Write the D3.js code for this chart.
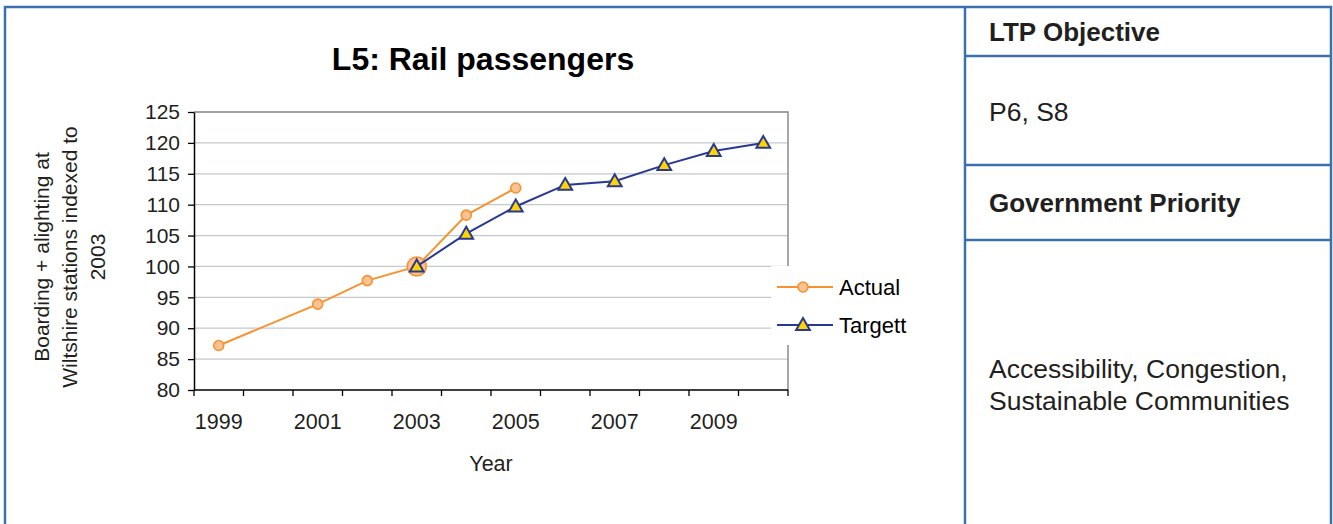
<!DOCTYPE html>
<html>
<head>
<meta charset="utf-8">
<script src="https://cdn.jsdelivr.net/npm/d3@7"></script>
<style>
  html, body { margin: 0; padding: 0; background: #fff; }
  svg { display: block; font-family: "Liberation Sans", Arial, Helvetica, sans-serif; }
</style>
</head>
<body>
<svg id="chart" width="1333" height="524"></svg>
<script>
// Rail passenger index (2003 = 100)
const years = ["1999", "2000", "2001", "2002", "2003", "2004", "2005", "2006", "2007", "2008", "2009", "2010"];
const actualYears = ["1999", "2001", "2002", "2003", "2004", "2005"];
const actualValues = [87.2, 93.9, 97.7, 100, 108.3, 112.7];
const targetYears = ["2003", "2004", "2005", "2006", "2007", "2008", "2009", "2010"];
const targetValues = [100, 105.3, 109.7, 113.2, 113.8, 116.4, 118.7, 120];
const yTicks = [80, 85, 90, 95, 100, 105, 110, 115, 120, 125];
const xLabelYears = ["1999", "2001", "2003", "2005", "2007", "2009"];
const highlightYear = "2003";

const panelHeadings = ["LTP Objective", "Government Priority"];
const panelObjective = ["P6, S8"];
const panelPriority = ["Accessibility, Congestion,", "Sustainable Communities"];

const svg = d3.select("#chart");
const frameColor = "#3A70AE";
const textColor = "#231F20";
const orange = "#F7922F";
const peach = "#FBC293";
const navy = "#2A3990";
const yellow = "#FFD400";

const plot = { left: 194, right: 788, top: 112, bottom: 390 };

const x = d3.scaleBand().domain(years).range([plot.left, plot.right]).padding(0);
const y = d3.scaleLinear().domain([80, 125]).range([plot.bottom, plot.top]);
const cx = d => x(d) + x.bandwidth() / 2;

// Outer frame and side panel
const frame = svg.append("g");
frame.append("rect")
  .attr("x", 5).attr("y", 7).attr("width", 1326).attr("height", 540)
  .attr("fill", "none").attr("stroke", frameColor).attr("stroke-width", 2.5);
frame.append("line")
  .attr("x1", 965).attr("x2", 965).attr("y1", 7).attr("y2", 530)
  .attr("stroke", frameColor).attr("stroke-width", 2.5);
[56, 165, 240].forEach(yy => {
  frame.append("line")
    .attr("x1", 965).attr("x2", 1331).attr("y1", yy).attr("y2", yy)
    .attr("stroke", frameColor).attr("stroke-width", 2.5);
});

const panel = svg.append("g").attr("fill", textColor).style("font-size", "26.5px");
panel.append("text").attr("x", 989).attr("y", 41).attr("font-weight", "bold").style("font-size", "26px").text(panelHeadings[0]);
panel.append("text").attr("x", 989).attr("y", 121).text(panelObjective[0]);
panel.append("text").attr("x", 989).attr("y", 212).attr("font-weight", "bold").style("font-size", "26px").text(panelHeadings[1]);
panelPriority.forEach((t, i) => {
  panel.append("text").attr("x", 989).attr("y", 378 + i * 32).text(t);
});

// Title
svg.append("text")
  .attr("x", 483).attr("y", 70)
  .attr("text-anchor", "middle")
  .attr("font-weight", "bold")
  .style("font-size", "32px")
  .attr("fill", "#000")
  .text("L5: Rail passengers");

// Gridlines
svg.append("g")
  .selectAll("line")
  .data(yTicks.filter(v => v > 80))
  .join("line")
  .attr("x1", plot.left).attr("x2", plot.right)
  .attr("y1", d => y(d)).attr("y2", d => y(d))
  .attr("stroke", "#C3C9CC").attr("stroke-width", 1.2);

// Plot border (top and right)
svg.append("path")
  .attr("d", `M${plot.left},${plot.top}H${plot.right}V${plot.bottom}`)
  .attr("fill", "none").attr("stroke", "#8A8A8A").attr("stroke-width", 1.5);

// Y axis
const yAxis = svg.append("g")
  .attr("transform", `translate(${plot.left},0)`)
  .call(d3.axisLeft(y).tickValues(yTicks).tickSize(6).tickPadding(8).tickSizeOuter(0));
yAxis.select(".domain").attr("stroke", "#000").attr("stroke-width", 1.5);
yAxis.selectAll(".tick line").attr("stroke", "#000").attr("stroke-width", 1.3);
yAxis.selectAll(".tick text")
  .style("font-size", "21px").attr("fill", textColor)
  .style("font-family", "'Liberation Sans', Arial, sans-serif");

// X axis: ticks at category boundaries, labels every other year
const xAxis = svg.append("g").attr("transform", `translate(0,${plot.bottom})`);
xAxis.append("line")
  .attr("x1", plot.left).attr("x2", plot.right).attr("y1", 0).attr("y2", 0)
  .attr("stroke", "#000").attr("stroke-width", 1.5);
xAxis.selectAll("line.tick")
  .data(years.concat(["end"]))
  .join("line")
  .attr("class", "tick")
  .attr("x1", (d, i) => i < years.length ? x(d) : plot.right)
  .attr("x2", (d, i) => i < years.length ? x(d) : plot.right)
  .attr("y1", 0).attr("y2", 6)
  .attr("stroke", "#000").attr("stroke-width", 1.3);
xAxis.selectAll("text")
  .data(xLabelYears)
  .join("text")
  .attr("x", d => cx(d))
  .attr("y", 39)
  .attr("text-anchor", "middle")
  .style("font-size", "21.5px")
  .attr("fill", textColor)
  .text(d => d);

// Axis titles
svg.append("text")
  .attr("x", (plot.left + plot.right) / 2).attr("y", 471)
  .attr("text-anchor", "middle")
  .style("font-size", "21.5px").attr("fill", textColor)
  .text("Year");

const yTitle = svg.append("text")
  .attr("transform", "translate(0,257) rotate(-90)")
  .attr("text-anchor", "middle")
  .style("font-size", "21px").attr("fill", textColor);
[["Boarding + alighting at", 49], ["Wiltshire stations indexed to", 77], ["2003", 105]].forEach(([t, bx]) => {
  yTitle.append("tspan").attr("x", 0).attr("y", bx).text(t);
});

// Series
const actual = actualYears.map((yr, i) => ({ year: yr, value: actualValues[i] }));
const target = targetYears.map((yr, i) => ({ year: yr, value: targetValues[i] }));
const line = d3.line().x(d => cx(d.year)).y(d => y(d.value));

svg.append("path").datum(actual)
  .attr("d", line).attr("fill", "none").attr("stroke", orange).attr("stroke-width", 2);

svg.append("g").selectAll("circle")
  .data(actual)
  .join("circle")
  .attr("cx", d => cx(d.year)).attr("cy", d => y(d.value))
  .attr("r", d => d.year === highlightYear ? 9.5 : 5)
  .attr("fill", peach).attr("stroke", orange).attr("stroke-width", 1.6);

svg.append("path").datum(target)
  .attr("d", line).attr("fill", "none").attr("stroke", navy).attr("stroke-width", 2);

const tri = d3.symbol().type(d3.symbolTriangle).size(82);
svg.append("g").selectAll("path")
  .data(target)
  .join("path")
  .attr("d", tri)
  .attr("transform", d => `translate(${cx(d.year)},${y(d.value) + 1})`)
  .attr("fill", yellow).attr("stroke", navy).attr("stroke-width", 2).attr("stroke-linejoin", "miter");

// Legend
const legend = svg.append("g");
legend.append("rect")
  .attr("x", 771).attr("y", 266).attr("width", 150).attr("height", 79)
  .attr("fill", "#fff");
const legendItems = [
  { name: "Actual", color: orange, y: 287 },
  { name: "Targett", color: navy, y: 325 }
];
legendItems.forEach((item, i) => {
  legend.append("line")
    .attr("x1", 777).attr("x2", 833).attr("y1", item.y).attr("y2", item.y)
    .attr("stroke", item.color).attr("stroke-width", 2);
  if (i === 0) {
    legend.append("circle").attr("cx", 803).attr("cy", item.y).attr("r", 5)
      .attr("fill", peach).attr("stroke", orange).attr("stroke-width", 1.6);
  } else {
    legend.append("path").attr("d", tri)
      .attr("transform", `translate(803,${item.y + 1})`)
      .attr("fill", yellow).attr("stroke", navy).attr("stroke-width", 2);
  }
  legend.append("text")
    .attr("x", 839).attr("y", item.y + 8)
    .style("font-size", "22px").attr("fill", "#000")
    .text(item.name);
});
</script>
</body>
</html>
